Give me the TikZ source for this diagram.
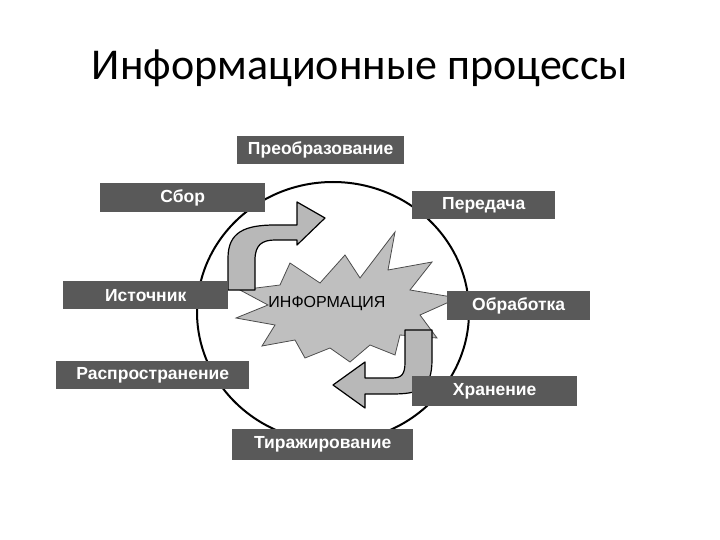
\documentclass[tikz,border=0pt]{standalone}
\usepackage{fontspec}
\setmainfont{Carlito}
\newfontfamily\boxfont{Liberation Sans}
\begin{document}
\begin{tikzpicture}[x=1pt,y=-1pt,
  lbl/.style={fill=black!65,text=white,font=\boxfont\bfseries\fontsize{17.5}{19}\selectfont,anchor=north west,inner sep=0pt,align=center},
  arrowgray/.style={fill=black!28,draw=black,line width=1.2pt,line join=round}]
\useasboundingbox (0,0) rectangle (720,540);
\node[font=\fontsize{44}{50}\selectfont] (title) at (360,68) {Информационные процессы};
\draw[line width=2pt] (333,312) ellipse [x radius=136, y radius=130];
% star
\filldraw[fill=black!25,draw=black!70,line width=0.8pt] (290,263)--(320,283)--(345,255)--(360,278)--(395,232)--(388,270)--(432,262)--(410,290)--(458,298)--(420,315)--(437,338)--(400,335)--(395,355)--(370,345)--(350,362)--(330,348)--(305,358)--(295,340)--(262,346)--(275,325)--(236,318)--(268,305)--(240,290)--(280,285)--cycle;
\node[font=\boxfont\fontsize{16}{18}\selectfont] (info) at (327,304) {ИНФОРМАЦИЯ};
% upper arrow
\filldraw[arrowgray] (228,290)--(228,258) .. controls (228,232) and (245,225) .. (275,225)--(297,225)--(297,202)--(325,218)--(297,245)--(297,240)--(275,240) .. controls (262,240) and (255,245) .. (255,260)--(255,290)--cycle;
% lower arrow
\filldraw[arrowgray] (432,330)--(432,360) .. controls (432,390) and (418,394) .. (392,394)--(365,394)--(365,408)--(333,385)--(365,362)--(365,378)--(392,378) .. controls (402,378) and (405,374) .. (405,362)--(405,330)--cycle;
% boxes
\node[lbl,minimum width=167pt,minimum height=28pt] (preob) at (237,136) {Преобразование};
\node[lbl,minimum width=165pt,minimum height=29pt] (sbor) at (100,183) {Сбор};
\node[lbl,minimum width=143pt,minimum height=28pt] (pered) at (412,191) {Передача};
\node[lbl,minimum width=165pt,minimum height=28pt] (ist) at (63,281) {Источник};
\node[lbl,minimum width=143pt,minimum height=29pt] (obr) at (447,291) {Обработка};
\node[lbl,minimum width=193pt,minimum height=28pt] (rasp) at (56,361) {Распространение};
\node[lbl,minimum width=165pt,minimum height=30pt] (hran) at (412,376) {Хранение};
\node[lbl,minimum width=181pt,minimum height=31pt] (tir) at (232,429) {Тиражирование};
\end{tikzpicture}
\end{document}
